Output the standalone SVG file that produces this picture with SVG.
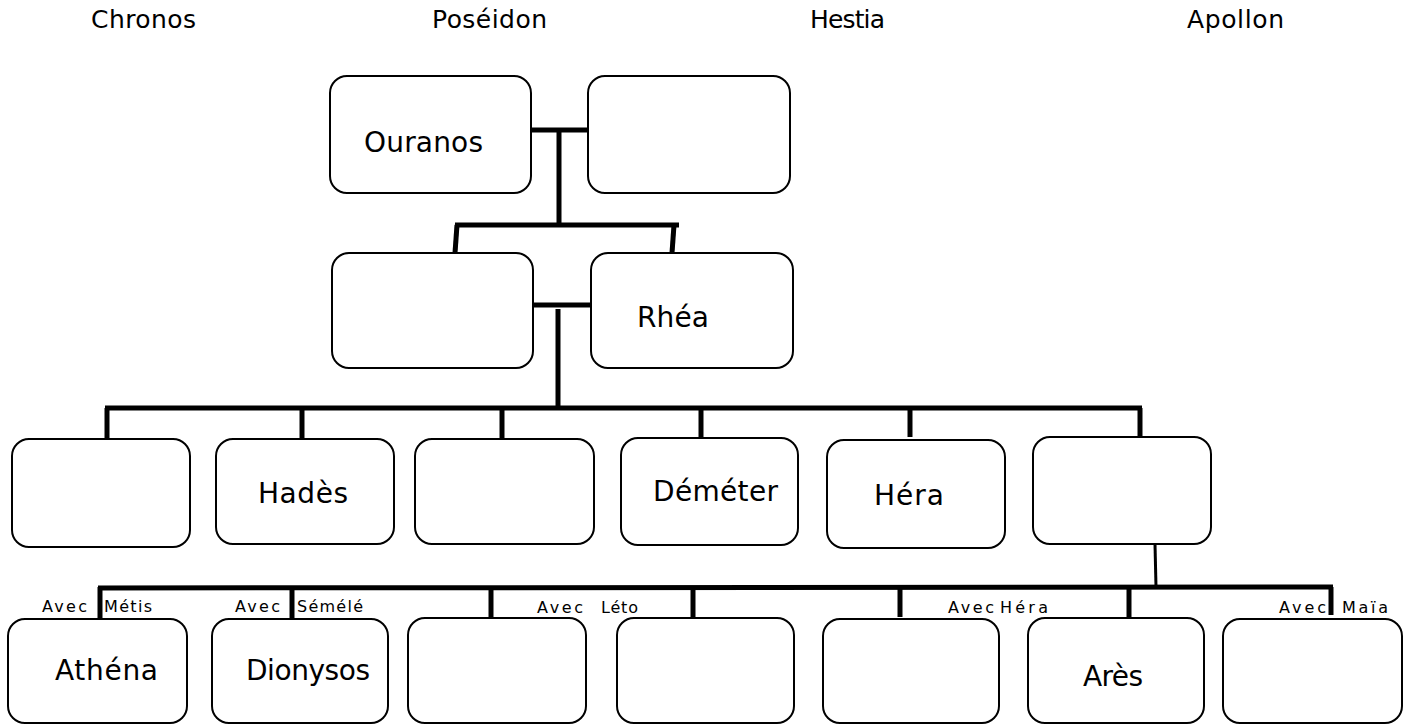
<svg xmlns="http://www.w3.org/2000/svg" width="1412" height="726" viewBox="0 0 1412 726">
<style>
.box{fill:#fff;stroke:#000;stroke-width:2}
.ln{stroke:#000;stroke-width:5;fill:none;stroke-linecap:butt}
.thin{stroke:#000;stroke-width:3;fill:none}
text{font-family:"DejaVu Sans","Liberation Sans",sans-serif;fill:#000}
.hd{font-size:25px}
.nm{font-size:28px}
.sm{font-size:16px}
</style>
<rect width="1412" height="726" fill="#fff"/>
<g id="headers">
<text class="hd" x="91" y="28" textLength="105">Chronos</text>
<text class="hd" x="432" y="28" textLength="115">Poséidon</text>
<text class="hd" x="810" y="28" textLength="75">Hestia</text>
<text class="hd" x="1187" y="28" textLength="97">Apollon</text>
</g>
<g id="connectors">
<line class="ln" x1="531" y1="130" x2="588" y2="130"/>
<line class="ln" x1="559" y1="130" x2="559" y2="225"/>
<line class="ln" x1="455" y1="225" x2="679" y2="225"/>
<line class="ln" x1="457" y1="225" x2="455" y2="253"/>
<line class="ln" x1="674" y1="225" x2="672" y2="253"/>
<line class="ln" x1="533" y1="305" x2="591" y2="305"/>
<line class="ln" x1="558" y1="309" x2="558" y2="408"/>
<line class="ln" x1="105" y1="408" x2="1142" y2="408"/>
<line class="ln" x1="107" y1="408" x2="107" y2="439"/>
<line class="ln" x1="302" y1="408" x2="302" y2="439"/>
<line class="ln" x1="502" y1="408" x2="502" y2="439"/>
<line class="ln" x1="701" y1="408" x2="701" y2="440"/>
<line class="ln" x1="910" y1="408" x2="910" y2="437"/>
<line class="ln" x1="1140" y1="408" x2="1140" y2="437"/>
<line class="thin" x1="1155" y1="544" x2="1156" y2="587"/>
<line class="ln" x1="98" y1="588" x2="1333" y2="587"/>
<line class="ln" x1="100" y1="587" x2="100" y2="619"/>
<line class="ln" x1="292" y1="587" x2="292" y2="619"/>
<line class="ln" x1="491" y1="587" x2="491" y2="618"/>
<line class="ln" x1="693" y1="587" x2="693" y2="620"/>
<line class="ln" x1="900" y1="587" x2="900" y2="617"/>
<line class="ln" x1="1129" y1="587" x2="1129" y2="618"/>
<line class="ln" x1="1331" y1="587" x2="1331" y2="615"/>
</g>
<g id="ouranos"><rect class="box" x="330" y="76" width="201" height="117" rx="17"/><text class="nm" x="364" y="152" textLength="119">Ouranos</text></g>
<g id="gaia"><rect class="box" x="588" y="76" width="202" height="117" rx="17"/></g>
<g id="chronos"><rect class="box" x="332" y="253" width="201" height="115" rx="17"/></g>
<g id="rhea"><rect class="box" x="591" y="253" width="202" height="115" rx="17"/><text class="nm" x="637" y="327" textLength="72">Rhéa</text></g>
<g id="c1"><rect class="box" x="12" y="439" width="178" height="108" rx="17"/></g>
<g id="hades"><rect class="box" x="216" y="439" width="178" height="105" rx="17"/><text class="nm" x="258" y="503" textLength="90">Hadès</text></g>
<g id="c3"><rect class="box" x="415" y="439" width="179" height="105" rx="17"/></g>
<g id="demeter"><rect class="box" x="621" y="438" width="177" height="107" rx="17"/><text class="nm" x="653" y="501" textLength="125">Déméter</text></g>
<g id="hera"><rect class="box" x="827" y="440" width="178" height="108" rx="17"/><text class="nm" x="874" y="505" textLength="70">Héra</text></g>
<g id="c6"><rect class="box" x="1033" y="437" width="178" height="107" rx="17"/></g>
<g id="athena"><rect class="box" x="8" y="619" width="179" height="104" rx="17"/><text class="nm" x="55" y="680" textLength="103">Athéna</text><text class="sm" x="42" y="612" textLength="45">Avec</text><text class="sm" x="104" y="612" textLength="48">Métis</text></g>
<g id="dionysos"><rect class="box" x="212" y="619" width="176" height="104" rx="17"/><text class="nm" x="246" y="680" textLength="124">Dionysos</text><text class="sm" x="235" y="612" textLength="45">Avec</text><text class="sm" x="297" y="612" textLength="66">Sémélé</text></g>
<g id="g3"><rect class="box" x="408" y="618" width="178" height="105" rx="17"/></g>
<g id="g4"><rect class="box" x="617" y="618" width="177" height="105" rx="17"/><text class="sm" x="537" y="613" textLength="46">Avec</text><text class="sm" x="601" y="613" textLength="37">Léto</text></g>
<g id="g5"><rect class="box" x="823" y="619" width="176" height="104" rx="17"/><text class="sm" x="948" y="613" textLength="46">Avec</text><text class="sm" x="1000" y="613" textLength="48">Héra</text></g>
<g id="ares"><rect class="box" x="1028" y="618" width="176" height="105" rx="17"/><text class="nm" x="1083" y="686" textLength="60">Arès</text></g>
<g id="g7"><rect class="box" x="1223" y="619" width="179" height="104" rx="17"/><text class="sm" x="1279" y="613" textLength="47">Avec</text><text class="sm" x="1342" y="613" textLength="46">Maïa</text></g>
</svg>
